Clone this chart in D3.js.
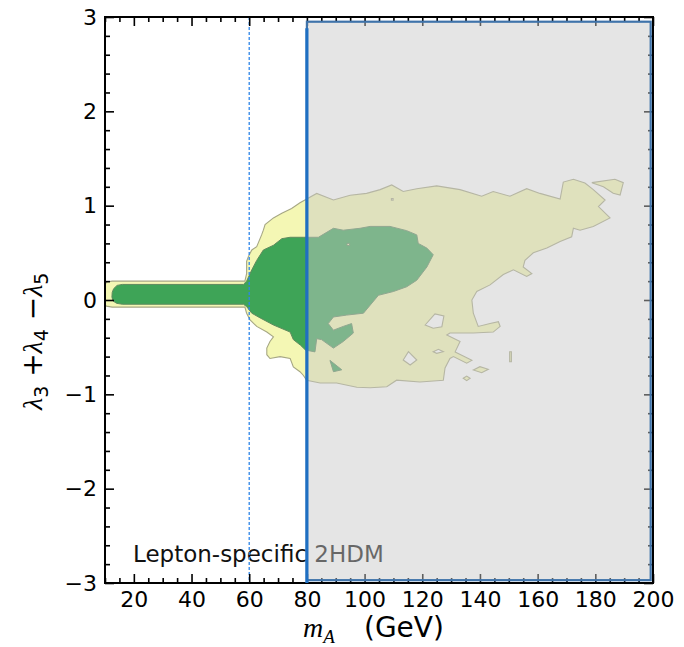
<!DOCTYPE html>
<html>
<head>
<meta charset="utf-8">
<script src="https://cdn.jsdelivr.net/npm/d3@7/dist/d3.min.js"></script>
<style>
  html, body { margin: 0; padding: 0; background: #fff; }
  svg { display: block; }
  text { font-family: "DejaVu Sans", sans-serif; }
</style>
</head>
<body>
<svg id="chart" width="684" height="647"></svg>
<script>
// ---- axis ranges and ticks ----
const xDomain = [10, 200];
const yDomain = [-3, 3];
const xMajorTicks = [20, 40, 60, 80, 100, 120, 140, 160, 180, 200];
const yMajorTicks = [-3, -2, -1, 0, 1, 2, 3];

// ---- allowed-region contours (m_A in GeV, lambda3+lambda4-lambda5) ----
// outer (2 sigma) region
const outerRegion = [
  [9.2,0.05],[9.5,0.15],[10.6,0.19],[12.5,0.2],[58.5,0.2],
  [59.1,0.28],[59.1,0.41],[59.7,0.46],[60.9,0.53],[62.6,0.565],[64.3,0.69],[64.9,0.74],[65.5,0.8],
  [68.4,0.87],[71.3,0.92],[74.7,0.97],[77.6,1.03],[83.4,1.13],[89.2,1.06],[95.0,1.11],[100.7,1.13],
  [105.4,1.17],[109.4,1.22],[113.4,1.15],[118.1,1.18],[125.0,1.21],[133.1,1.17],[140.6,1.10],
  [144.6,1.15],[150.4,1.10],[156.2,1.18],[160.8,1.13],[167.8,1.07],[168.9,1.25],[172.4,1.28],
  [176.4,1.24],[179.3,1.17],[183.4,1.06],[181.1,0.99],[185.1,0.87],[179.3,0.78],[174.7,0.74],
  [172.4,0.76],[171.8,0.67],[167.8,0.62],[163.2,0.55],[158.5,0.5],[155.6,0.42],[155.0,0.35],
  [158.0,0.28],[156.2,0.25],[151.6,0.32],[148.1,0.27],[143.5,0.16],[138.9,0.09],[137.2,0.0],
  [137.7,-0.14],[139.4,-0.28],[143.5,-0.25],[146.4,-0.23],[147.0,-0.28],[144.6,-0.34],[137.7,-0.35],
  [129.6,-0.35],[128.5,-0.37],[133.1,-0.44],[131.4,-0.55],[137.2,-0.64],[135.4,-0.67],[130.8,-0.6],
  [129.6,-0.62],[127.9,-0.72],[127.3,-0.85],[119.2,-0.87],[111.1,-0.85],[107.7,-0.92],[101.9,-0.93],
  [97.3,-0.925],[90.3,-0.88],[84.6,-0.88],[79.9,-0.85],[78.8,-0.8],[77.6,-0.76],[75.3,-0.71],
  [74.2,-0.62],[70.7,-0.6],[67.2,-0.62],[66.1,-0.58],[66.1,-0.51],[67.2,-0.44],[68.4,-0.39],
  [66.1,-0.34],[62.6,-0.28],[60.3,-0.21],[59.1,-0.14],[58.5,-0.075],[12.5,-0.075],[10.5,-0.065],
  [9.4,-0.03]
];
const outerHoles = [
  [[121.0,-0.265],[124.4,-0.148],[127.5,-0.17],[126.8,-0.283],[123.8,-0.3]],
  [[113.4,-0.636],[115.2,-0.548],[118.1,-0.636],[115.8,-0.689]],
  [[123.8,-0.548],[125.6,-0.523],[127.3,-0.548],[125.0,-0.565]],
  [[109.3,1.075],[109.9,1.075],[109.9,1.058],[109.3,1.058]]
];
const outerIslands = [
  [[178.8,1.244],[186.8,1.28],[189.7,1.244],[188.6,1.113],[186.2,1.131],[182.8,1.201]],
  [[137.7,-0.742],[140.0,-0.707],[142.9,-0.735],[140.6,-0.771]],
  [[134.2,-0.83],[135.4,-0.806],[136.6,-0.83],[135.4,-0.855]],
  [[150.3,-0.548],[150.9,-0.548],[150.9,-0.654],[150.3,-0.654]]
];

// inner (1 sigma) region
const innerRegion = [
  [13.0,0.12],[14.2,0.155],[16,0.165],[58.0,0.165],[58.5,0.18],[59.1,0.2],[60.9,0.32],[62.6,0.42],
  [64.9,0.53],[68.4,0.58],[71.3,0.65],[74.2,0.665],[78.8,0.665],[84.0,0.665],[89.2,0.76],[92.6,0.74],
  [98.4,0.76],[101.9,0.78],[108.8,0.78],[114.6,0.735],[118.1,0.69],[118.6,0.6],[121.6,0.55],
  [123.8,0.48],[121.6,0.35],[118.1,0.21],[114.6,0.14],[110.0,0.09],[104.8,0.05],[99.6,-0.14],
  [93.8,-0.16],[89.2,-0.18],[87.4,-0.25],[89.2,-0.32],[92.6,-0.28],[95.5,-0.25],[96.1,-0.35],
  [92.6,-0.44],[89.2,-0.51],[85.1,-0.42],[83.4,-0.41],[82.8,-0.55],[79.5,-0.53],[77.8,-0.48],
  [75.3,-0.42],[74.2,-0.34],[68.4,-0.265],[63.8,-0.19],[60.9,-0.14],[59.1,-0.07],[58.0,-0.045],
  [16,-0.045],[14,-0.035],[12.8,-0.01],[12.4,0.03],[12.5,0.08]
];
const innerHoles = [
  [[93.9,0.6],[94.8,0.6],[94.8,0.578],[93.9,0.578]]
];
const innerIslands = [
  [[88.0,-0.64],[92.1,-0.74],[89.2,-0.76]]
];

// excluded mass range and reference lines
const excludedBand = { x0: 80, x1: 199.2, y0: -2.97, y1: 2.95 };
const halfHiggsMass = 60;
const lepBound = 80;
const modelLabel = "Lepton-specific 2HDM";

// ---- layout ----
const svg = d3.select("#chart");
const margin = { left: 105, right: 31, top: 17, bottom: 64 };
const W = 684, H = 647;
const x = d3.scaleLinear().domain(xDomain).range([margin.left, W - margin.right]);
const y = d3.scaleLinear().domain(yDomain).range([H - margin.bottom, margin.top]);

svg.append("defs").append("clipPath").attr("id", "plotClip")
  .append("rect")
  .attr("x", x(xDomain[0])).attr("y", y(yDomain[1]))
  .attr("width", x(xDomain[1]) - x(xDomain[0]))
  .attr("height", y(yDomain[0]) - y(yDomain[1]));

const line = d3.line().x(d => x(d[0])).y(d => y(d[1]));
const ringsPath = rings => rings.map(r => line(r) + "Z").join("");

const plot = svg.append("g").attr("clip-path", "url(#plotClip)");

plot.append("path")
  .attr("d", ringsPath([outerRegion, ...outerHoles, ...outerIslands]))
  .attr("fill", "#f4f7b4")
  .attr("fill-rule", "evenodd")
  .attr("stroke", "#a6a784")
  .attr("stroke-width", 1.1);

plot.append("path")
  .attr("d", ringsPath([innerRegion, ...innerHoles, ...innerIslands]))
  .attr("fill", "#3ea457")
  .attr("fill-rule", "evenodd")
  .attr("stroke", "#5f8a5f")
  .attr("stroke-width", 1);

// model label
svg.append("text")
  .attr("x", 133).attr("y", 562)
  .attr("font-size", 23)
  .attr("fill", "#111")
  .text(modelLabel);

// m_A = m_h/2 reference line
svg.append("line")
  .attr("x1", x(halfHiggsMass)).attr("x2", x(halfHiggsMass))
  .attr("y1", y(yDomain[1])).attr("y2", y(yDomain[0]))
  .attr("stroke", "#2f86e8").attr("stroke-width", 1.3)
  .attr("stroke-dasharray", "3,2");

// ---- axes (ticks pointing inward on all four sides) ----
const xMinor = d3.range(10, 201, 5).filter(v => v % 20 !== 0);
const yMinor = d3.range(-30, 31, 2).filter(v => v % 10 !== 0).map(v => v / 10);
const majorLen = 9, minorLen = 5;

function styleAxis(g) {
  g.select(".domain").remove();
  g.selectAll(".tick line").attr("stroke", "#000").attr("stroke-width", 1.6);
  g.selectAll(".tick text").attr("font-family", "DejaVu Sans").attr("font-size", 22).attr("fill", "#000");
}

const bottomY = y(yDomain[0]), topY = y(yDomain[1]);
const leftX = x(xDomain[0]), rightX = x(xDomain[1]);

svg.append("g").attr("transform", `translate(0,${bottomY})`)
  .call(d3.axisBottom(x).tickValues(xMajorTicks).tickSize(-majorLen).tickPadding(8).tickFormat(d3.format("d")))
  .call(styleAxis);
svg.append("g").attr("transform", `translate(0,${bottomY})`)
  .call(d3.axisBottom(x).tickValues(xMinor).tickSize(-minorLen).tickFormat(""))
  .call(styleAxis);
svg.append("g").attr("transform", `translate(0,${topY})`)
  .call(d3.axisTop(x).tickValues(xMajorTicks).tickSize(-majorLen).tickFormat(""))
  .call(styleAxis);
svg.append("g").attr("transform", `translate(0,${topY})`)
  .call(d3.axisTop(x).tickValues(xMinor).tickSize(-minorLen).tickFormat(""))
  .call(styleAxis);
svg.append("g").attr("transform", `translate(${leftX},0)`)
  .call(d3.axisLeft(y).tickValues(yMajorTicks).tickSize(-majorLen).tickPadding(8).tickFormat(d3.format("d")))
  .call(styleAxis);
svg.append("g").attr("transform", `translate(${leftX},0)`)
  .call(d3.axisLeft(y).tickValues(yMinor).tickSize(-minorLen).tickFormat(""))
  .call(styleAxis);
svg.append("g").attr("transform", `translate(${rightX},0)`)
  .call(d3.axisRight(y).tickValues(yMajorTicks).tickSize(-majorLen).tickFormat(""))
  .call(styleAxis);
svg.append("g").attr("transform", `translate(${rightX},0)`)
  .call(d3.axisRight(y).tickValues(yMinor).tickSize(-minorLen).tickFormat(""))
  .call(styleAxis);

// plot frame
svg.append("rect")
  .attr("x", leftX).attr("y", topY)
  .attr("width", rightX - leftX).attr("height", bottomY - topY)
  .attr("fill", "none").attr("stroke", "#000").attr("stroke-width", 2);

// excluded band overlay
svg.append("rect")
  .attr("x", x(excludedBand.x0)).attr("y", y(excludedBand.y1))
  .attr("width", x(excludedBand.x1) - x(excludedBand.x0))
  .attr("height", y(excludedBand.y0) - y(excludedBand.y1))
  .attr("fill", "#c8c8c8").attr("fill-opacity", 0.47)
  .attr("stroke", "#3f73aa").attr("stroke-width", 2.2);

// LEP bound
svg.append("line")
  .attr("x1", x(lepBound)).attr("x2", x(lepBound))
  .attr("y1", y(2.88)).attr("y2", y(yDomain[0]))
  .attr("stroke", "#1f6fc2").attr("stroke-width", 3.2);

// ---- axis titles ----
const xt = svg.append("text").attr("x", 303).attr("y", 637).attr("font-size", 28);
xt.append("tspan").attr("font-family", "Liberation Serif").attr("font-style", "italic").text("m");
xt.append("tspan").attr("font-family", "Liberation Serif").attr("font-style", "italic").attr("font-size", 19).attr("dy", 6).text("A");
xt.append("tspan").attr("dy", -6).attr("x", 364).text("(GeV)");

const yt = svg.append("text")
  .attr("transform", "translate(42,410) rotate(-90)")
  .attr("font-size", 28);
const lam = (idx, op, first) => {
  if (!first) yt.append("tspan").attr("dy", -6).text(op);
  yt.append("tspan").attr("font-family", "Liberation Serif").attr("font-style", "italic").text("\u03bb");
  yt.append("tspan").attr("font-size", 19).attr("dy", 6).text(idx);
};
lam("3", "", true);
lam("4", " +", false);
lam("5", " \u2212", false);
</script>
</body>
</html>
